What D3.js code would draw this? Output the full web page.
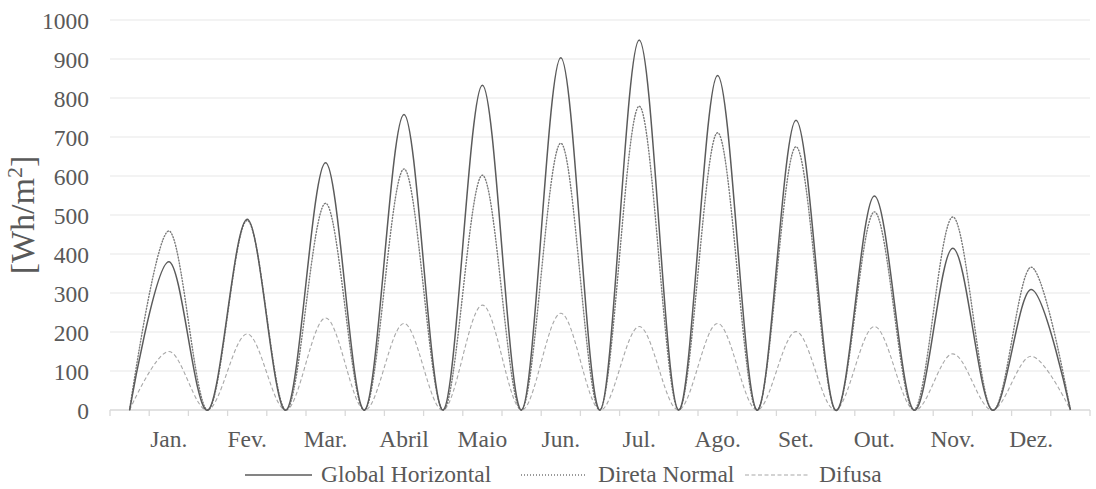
<!DOCTYPE html>
<html>
<head>
<meta charset="utf-8">
<script src="https://cdn.jsdelivr.net/npm/d3@7"></script>
<style>
  html, body { margin: 0; padding: 0; background: #fff; }
  svg { display: block; }
</style>
</head>
<body>
<svg id="chart" width="1096" height="489"></svg>
<script>
// Monthly peak irradiance, each month drawn as a rise from zero to its peak and back
const months = ["Jan.", "Fev.", "Mar.", "Abril", "Maio", "Jun.", "Jul.", "Ago.", "Set.", "Out.", "Nov.", "Dez."];
const globalHorizontal = [380, 489, 634, 758, 833, 903, 949, 858, 743, 549, 415, 309];
const diretaNormal     = [459, 486, 530, 618, 602, 684, 779, 711, 675, 508, 495, 366];
const difusa           = [150, 195, 236, 222, 269, 248, 214, 222, 201, 214, 144, 138];
const yTicks = [0, 100, 200, 300, 400, 500, 600, 700, 800, 900, 1000];
const seriesNames = ["Global Horizontal", "Direta Normal", "Difusa"];

// Pick the first installed serif family (compared against generic fallbacks)
function pickFont(candidates) {
  const ctx = document.createElement("canvas").getContext("2d");
  const probe = "mmmmmmmmmmlliWWQg0123456789";
  const widthOf = f => { ctx.font = "40px " + f; return ctx.measureText(probe).width; };
  const baseMono = widthOf("monospace");
  const baseSans = widthOf("sans-serif");
  for (const c of candidates) {
    const q = `"${c}"`;
    if (widthOf(`${q}, monospace`) !== baseMono || widthOf(`${q}, sans-serif`) !== baseSans) return q + ", serif";
  }
  return "serif";
}
const fontStack = pickFont(["Liberation Serif", "Times New Roman", "Tinos", "DejaVu Serif", "Noto Serif"]);
const fontSize = "23.5px";

// Category sequence: 0, peak, 0, peak, ..., 0
const categories = [];
const categoryLabels = [];
categories.push(0); categoryLabels.push("");
months.forEach(m => {
  categories.push(categories.length); categoryLabels.push(m);
  categories.push(categories.length); categoryLabels.push("");
});
function expand(peaks) {
  const out = [0];
  peaks.forEach(p => { out.push(p); out.push(0); });
  return out;
}

const series = [
  { name: seriesNames[0], values: expand(globalHorizontal), color: "#5b5b5b", width: 1.5, dash: null },
  { name: seriesNames[1], values: expand(diretaNormal),     color: "#7a7a7a", width: 1.4, dash: "1 2" },
  { name: seriesNames[2], values: expand(difusa),           color: "#a8a8a8", width: 1.1, dash: "4 2.5" }
];

const svg = d3.select("#chart").style("font-family", fontStack);
const plot = { left: 110, right: 1090, top: 20, bottom: 410 };

const xBand = d3.scaleBand().domain(categories).range([plot.left, plot.right]).paddingInner(0).paddingOuter(0);
const xc = i => xBand(i) + xBand.bandwidth() / 2;
const y = d3.scaleLinear().domain([0, 1000]).range([plot.bottom, plot.top]);

const textColor = "#595959";

// Horizontal gridlines
svg.append("g")
  .selectAll("line")
  .data(yTicks.filter(t => t > 0))
  .join("line")
  .attr("x1", plot.left).attr("x2", plot.right)
  .attr("y1", d => y(d)).attr("y2", d => y(d))
  .attr("stroke", "#e8e8e8").attr("stroke-width", 1.2);

// Y axis labels
const yAxis = d3.axisLeft(y).tickValues(yTicks).tickFormat(d3.format("d")).tickSize(0).tickPadding(21);
const gy = svg.append("g").attr("transform", `translate(${plot.left},0)`).call(yAxis)
  .attr("font-family", fontStack).attr("font-size", fontSize);
gy.select(".domain").remove();
gy.selectAll("text")
  .attr("fill", textColor)
  .attr("dy", "0.34em")
  .style("font-family", fontStack)
  .style("font-size", fontSize);

// X axis line with ticks at category boundaries
const gx = svg.append("g");
gx.append("line")
  .attr("x1", plot.left).attr("x2", plot.right)
  .attr("y1", plot.bottom).attr("y2", plot.bottom)
  .attr("stroke", "#d9d9d9").attr("stroke-width", 1.3);
const boundaries = categories.map(c => xBand(c)).concat([plot.right]);
gx.selectAll("line.tick")
  .data(boundaries)
  .join("line")
  .attr("class", "tick")
  .attr("x1", d => d).attr("x2", d => d)
  .attr("y1", plot.bottom).attr("y2", plot.bottom + 6)
  .attr("stroke", "#d9d9d9").attr("stroke-width", 1.3);
gx.selectAll("text")
  .data(categories.filter(c => categoryLabels[c] !== ""))
  .join("text")
  .attr("x", d => xc(d))
  .attr("y", 447)
  .attr("text-anchor", "middle")
  .attr("fill", textColor)
  .style("font-family", fontStack)
  .style("font-size", fontSize)
  .text(d => categoryLabels[d]);

// Y axis title
const yTitle = svg.append("text")
  .attr("transform", "translate(34,215) rotate(-90)")
  .attr("text-anchor", "middle")
  .attr("fill", textColor)
  .style("font-family", fontStack)
  .style("font-size", "34px");
yTitle.append("tspan").text("[Wh/m");
yTitle.append("tspan").attr("dy", -12).style("font-size", "22px").text("2");
yTitle.append("tspan").attr("dy", 12).text("]");

// Series lines (drawn back to front)
const line = d3.line()
  .x((d, i) => xc(categories[i]))
  .y(d => y(d))
  .curve(d3.curveCatmullRom.alpha(0));

svg.append("g")
  .selectAll("path")
  .data(series.slice().reverse())
  .join("path")
  .attr("d", d => line(d.values))
  .attr("fill", "none")
  .attr("stroke", d => d.color)
  .attr("stroke-width", d => d.width)
  .attr("stroke-dasharray", d => d.dash)
  .attr("stroke-linecap", d => d.dash === "1 2" ? "round" : "butt");

// Legend
const legendItems = [
  { x1: 245, x2: 312, tx: 321 },
  { x1: 521, x2: 587, tx: 598 },
  { x1: 745, x2: 810, tx: 819 }
];
const lg = svg.append("g");
series.forEach((s, i) => {
  const li = legendItems[i];
  lg.append("line")
    .attr("x1", li.x1).attr("x2", li.x2)
    .attr("y1", 475).attr("y2", 475)
    .attr("stroke", s.color).attr("stroke-width", s.width)
    .attr("stroke-dasharray", s.dash);
  lg.append("text")
    .attr("x", li.tx).attr("y", 482)
    .attr("fill", textColor)
    .style("font-family", fontStack)
    .style("font-size", fontSize)
    .text(s.name);
});
</script>
</body>
</html>
